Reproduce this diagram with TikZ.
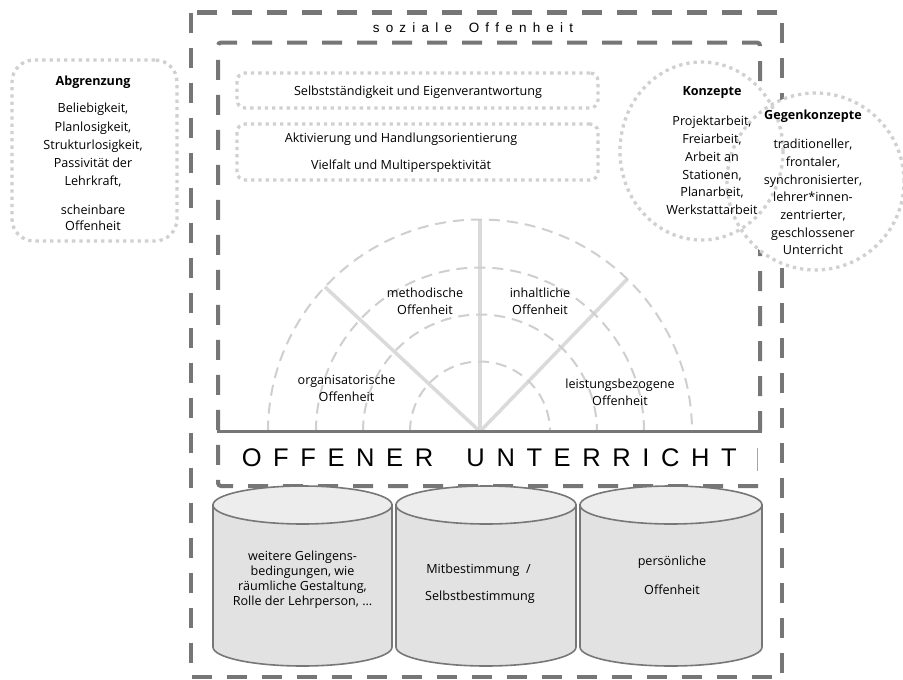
\documentclass[tikz,border=0pt]{standalone}
\usepackage{fontspec}
\setmainfont{Open Sans}
\newfontfamily\hdfont{Liberation Sans}
\usetikzlibrary{shapes.geometric}
\definecolor{framec}{HTML}{767676}
\definecolor{dotc}{HTML}{D0D0D0}
\definecolor{fanc}{HTML}{DADADA}
\definecolor{arcc}{HTML}{CFCFCF}
\definecolor{cylbody}{HTML}{E2E2E2}
\definecolor{cyltop}{HTML}{EDEDED}
\definecolor{cylline}{HTML}{777777}
\newlength\gpa
\newcommand\gq{\hspace{\gpa}}
\newcommand\bfs[1]{\fontsize{12.6}{#1}\selectfont}
\tikzset{
  framedash/.style={draw=framec, line width=4.5pt, dash pattern=on 20pt off 15pt},
  dotbox/.style={draw=dotc, line width=3.3pt, dash pattern=on 3.3pt off 4pt, rounded corners=8pt, inner sep=0pt},
  circbg/.style={ellipse, fill=white, inner sep=0pt},
  dotcircle/.style={ellipse, draw=dotc, line width=3.3pt, dash pattern=on 3.3pt off 4pt, inner sep=0pt},
  txt/.style={font=\bfs{15}, align=center, inner sep=0pt},
  hd/.style={font=\bfs{15}\bfseries, inner sep=0pt},
  fanline/.style={draw=fanc, line width=3.5pt},
  arcline/.style={draw=arcc, line width=2pt, dash pattern=on 11pt off 7pt},
  cyl/.style={draw=cylline, line width=1.6pt},
}
\begin{document}
\begin{tikzpicture}[x=1pt,y=-1pt]
\useasboundingbox (0,0) rectangle (903,680);
\fill[white] (0,0) rectangle (903,680);

% outer frame
\draw[framedash] (191,12.5) rectangle (782,677);
% inner frame
\draw[framedash, line width=4pt, rounded corners=3pt] (760,431) -- (760,42.5) -- (218,42.5) -- (218,486) -- (762,486);

% title
\setlength\gpa{6.2pt}
\node[font=\hdfont\fontsize{13.5}{16}\selectfont, inner sep=0pt] (soz) at (473,28)
  {s\gq o\gq z\gq i\gq a\gq l\gq e\hspace{16.7pt}O\gq f\gq f\gq e\gq n\gq h\gq e\gq i\gq t};

% dotted boxes
\node[dotbox, minimum width=361pt, minimum height=35pt] (selbst) at (417.5,90.5) {};
\node[txt] (selbsttxt) at (418,92) {Selbstständigkeit und Eigenverantwortung};
\node[dotbox, minimum width=361pt, minimum height=56pt] (aktiv) at (417.5,152) {};
\node[txt] (akt1) at (401,139) {Aktivierung und Handlungsorientierung};
\node[txt] (akt2) at (401,166) {Vielfalt und Multiperspektivität};

% fan
\coordinate (fc) at (480,431.5);
\draw[fanline] (fc) -- ++(-90:212);
\draw[fanline] (fc) -- ++(-137:212);
\draw[fanline] (fc) -- ++(-46:212);
\foreach \r in {70,117,164,212}
  \draw[arcline] (fc) ++(-\r,0) arc[start angle=180, end angle=360, radius=\r];
\node[txt, font=\bfs{17}] (meth) at (425,301.5) {methodische\\Offenheit};
\node[txt, font=\bfs{17}] (inh) at (540,301.5) {inhaltliche\\Offenheit};
\node[txt, font=\bfs{17}] (org) at (346.5,388.5) {organisatorische\\Offenheit};
\node[txt, font=\bfs{17}] (leist) at (620,392.5) {leistungsbezogene\\Offenheit};

% base line and title bar
\draw[draw=framec, line width=3.3pt] (216.5,431.5) -- (762,431.5);
\setlength\gpa{11.6pt}
\node[font=\hdfont\fontsize{25.5}{28}\selectfont, inner sep=0pt] (ou) at (489.2,457.5)
  {O\gq F\gq F\gq E\gq N\gq E\gq R\hspace{33.3pt}U\gq N\gq T\gq E\gq R\gq R\gq I\gq C\gq H\gq T};
\draw[draw=gray!70, line width=1pt] (757.5,448) -- (757.5,471);

% cylinders
\foreach \L/\R in {213/392, 396/576, 580/762}{
  \pgfmathsetmacro\cx{(\L+\R)/2}
  \pgfmathsetmacro\rx{(\R-\L)/2}
  \filldraw[cyl, fill=cylbody] (\L,505) -- (\L,647) arc[start angle=180, end angle=0, x radius=\rx, y radius=19] -- (\R,505) -- cycle;
  \filldraw[cyl, fill=cyltop] (\cx,505) ellipse[x radius=\rx, y radius=19];
}
\node[txt, font=\bfs{15}] (cyl1) at (302.5,579.5) {weitere Gelingens-\\bedingungen, wie\\räumliche Gestaltung,\\Rolle der Lehrperson, \dots};
\node[txt] (cyl2a) at (478.5,570) {Mitbestimmung\ \ /};
\node[txt] (cyl2b) at (480,597) {Selbstbestimmung};
\node[txt] (cyl3a) at (672,562) {persönliche};
\node[txt] (cyl3b) at (672,590) {Offenheit};

% Abgrenzung
\node[dotbox, rounded corners=22pt, minimum width=165pt, minimum height=181pt] (abgr) at (94.5,150.5) {};
\node[hd] (abgrhd) at (93,82) {Abgrenzung};
\node[txt, font=\bfs{18.25}] (abgr1) at (93,145.5) {Beliebigkeit,\\Planlosigkeit,\\Strukturlosigkeit,\\Passivität der\\Lehrkraft,};
\node[txt, font=\bfs{16.5}] (abgr2) at (93,218) {scheinbare\\Offenheit};

% circles: white grounds first, then both dotted outlines
\node[circbg, minimum width=163pt, minimum height=178pt] (konzbg) at (701.5,151) {};
\node[circbg, minimum width=177pt, minimum height=177pt] (gegenbg) at (815.5,181.5) {};
\node[dotcircle, minimum width=163pt, minimum height=178pt] (konz) at (konzbg.center) {};
\node[dotcircle, minimum width=177pt, minimum height=177pt] (gegen) at (gegenbg.center) {};
\node[hd] (konzhd) at (712,93) {Konzepte};
\node[txt, font=\bfs{17.8}] (konztxt) at (712,165.5) {Projektarbeit,\\Freiarbeit,\\Arbeit an\\Stationen,\\Planarbeit,\\Werkstattarbeit};
\node[hd] (gegenhd) at (813,116) {Gegenkonzepte};
\node[txt, font=\bfs{17.7}] (gegentxt) at (813,197) {traditioneller,\\frontaler,\\synchronisierter,\\lehrer*innen-\\zentrierter,\\geschlossener\\Unterricht};
\end{tikzpicture}
\end{document}
